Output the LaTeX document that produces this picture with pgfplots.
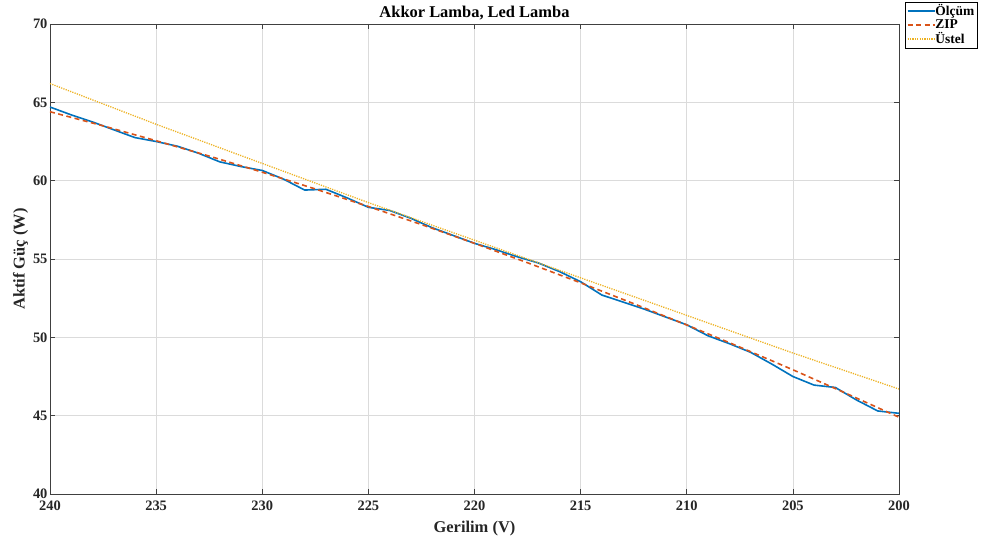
\documentclass[border=0pt]{standalone}
\usepackage{fontspec}
\setmainfont{Liberation Serif}
\usepackage{pgfplots}
\pgfplotsset{compat=1.18}
\definecolor{mblue}{rgb}{0,0.447,0.741}
\definecolor{mred}{rgb}{0.850,0.325,0.098}
\definecolor{myel}{rgb}{0.929,0.694,0.125}
\begin{document}
\begin{tikzpicture}
\begin{axis}[
  at={(0,0)}, anchor=south west,
  scale only axis, width=849bp, height=470bp,
  xmin=200, xmax=240, ymin=40, ymax=70,
  x dir=reverse,
  xtick={200,205,...,240}, ytick={40,45,...,70},
  /pgf/number format/assume math mode=true,
  ticklabel style={font=\bfseries\fontsize{14.5}{15}\selectfont, text=black!85},
  yticklabel style={xshift=1bp},
  xticklabel style={yshift=-3bp},
  tick align=inside, tick pos=both,
  major tick length=5bp,
  axis line style={black!75, line width=0.6pt},
  tick style={black!75, line width=0.6pt},
  grid=major, major grid style={black!14, line width=0.5pt},
  title={Akkor Lamba, Led Lamba},
  title style={font=\bfseries\fontsize{16.5}{17}\selectfont, yshift=-6bp},
  xlabel={Gerilim (V)}, ylabel={Aktif Güç (W)},
  label style={font=\bfseries\fontsize{16.5}{17}\selectfont, text=black!85},
  xlabel style={yshift=-4bp},
  ylabel style={yshift=-2bp},
  legend image code/.code={\draw[#1] (0bp,0bp) -- (27bp,0bp);},
  legend style={at={(1,1)}, anchor=north west, xshift=6bp, yshift=22bp,
    font=\bfseries\fontsize{13.5}{14}\selectfont, draw=black, line width=0.6pt,
    inner xsep=1.5pt, inner ysep=0.5pt, row sep=-1.5pt, cells={anchor=west},
    /tikz/every odd column/.append style={column sep=-2pt}},
  legend cell align=left,
]
\addplot[mblue, line width=1.6pt] coordinates {
(240,64.7) (239,64.2) (238,63.75) (237,63.25) (236,62.75) (235,62.5) (234,62.2)
(233,61.75) (232,61.2) (231,60.9) (230,60.65) (229,60.1) (228,59.4) (227,59.45)
(226,58.9) (225,58.3) (224,58.1) (223,57.6) (222,57.0) (221,56.5) (220,56.0)
(219,55.6) (218,55.15) (217,54.75) (216,54.2) (215,53.55) (214,52.7) (213,52.25)
(212,51.8) (211,51.3) (210,50.8) (209,50.1) (208,49.6) (207,49.05) (206,48.3)
(205,47.5) (204,46.95) (203,46.8) (202,46.0) (201,45.3) (200,45.15)
};
\addlegendentry{Ölçüm}
\addplot[mred, line width=1.6pt, dash pattern=on 5pt off 3.5pt] coordinates {
(240,64.4) (237.5,63.5) (235,62.55) (232.5,61.57) (230,60.54) (227.5,59.47)
(225,58.35) (222.5,57.2) (220,56.0) (217.5,54.76) (215,53.48) (212.5,52.15)
(210,50.79) (207.5,49.38) (205,47.93) (202.5,46.43) (200,44.9)
};
\addlegendentry{ZIP}
\addplot[myel, line width=1.3pt, dash pattern=on 1.2pt off 1.2pt] coordinates {
(240,66.2) (235,63.6) (230,61.1) (225,58.6) (220,56.2) (215,53.8) (210,51.4)
(205,49.0) (200,46.7)
};
\addlegendentry{Üstel}
\end{axis}
\pgfresetboundingbox
\path[use as bounding box] (-50bp,-55bp) rectangle (934bp,494bp);
\end{tikzpicture}
\end{document}
